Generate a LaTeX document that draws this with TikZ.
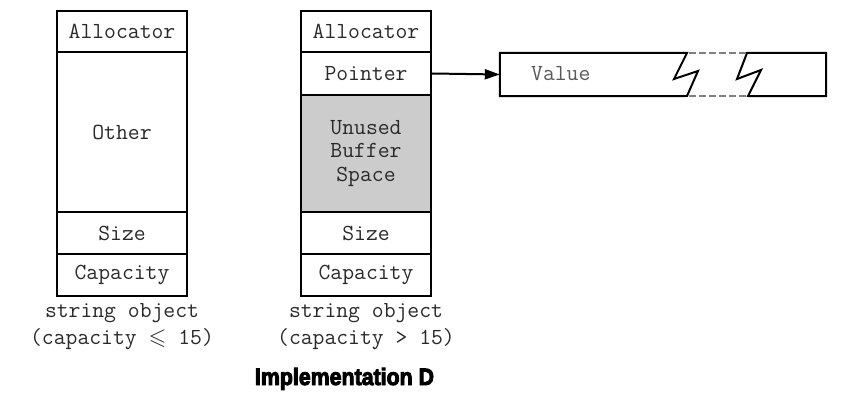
\documentclass[tikz,border=0pt]{standalone}
\usepackage{fontspec}
\usepackage{amssymb}
\newfontfamily\titlefont[FakeBold=4]{Liberation Sans Bold}
\usetikzlibrary{arrows.meta, positioning}
\definecolor{BufferGray}{HTML}{CCCCCC}
\definecolor{CellText}{HTML}{2A2A2A}

\tikzset{
    cell/.style={draw, line width=2pt, inner sep=0pt, minimum width=130pt,
        text=CellText, align=center, font=\ttfamily\fontsize{23}{23.5}\selectfont},
    caption/.style={anchor=base, inner sep=0pt, text=CellText, font=\ttfamily\fontsize{23}{24}\selectfont},
    ptrarrow/.style={-{Triangle[length=15pt,width=10pt]}, line width=2pt}
}

\begin{document}
\begin{tikzpicture}[x=1pt, y=-1pt]
        \useasboundingbox (0,0) rectangle (849,401);
        % short string: data kept inside the object
        \node[cell, minimum height=41pt] (allocL) at (122,31.5) {Allocator};
        \node[cell, minimum height=160pt] (otherL) at (122,132) {Other};
        \node[cell, minimum height=42pt] (sizeL) at (122,233) {Size};
        \node[cell, minimum height=42pt] (capL) at (122,275) {Capacity};
        \node[caption] (objL) at (122,317) {string object};
        \node[caption] (condL) at (122,344) {(capacity \smash{$\leqslant$} 15)};
        % long string: data kept on the heap
        \node[cell, minimum height=41pt] (allocR) at (366,31.5) {Allocator};
        \node[cell, minimum height=43pt] (ptrR) at (366,73.5) {Pointer};
        \node[cell, minimum height=117pt, fill=BufferGray] (unusedR) at (366,153.5) {Unused\\Buffer\\Space};
        \node[cell, minimum height=42pt] (sizeR) at (366,233) {Size};
        \node[cell, minimum height=42pt] (capR) at (366,275) {Capacity};
        \node[caption] (objR) at (366,317) {string object};
        \node[caption] (condR) at (366,344) {(capacity > 15)};
        % heap buffer with a break
        \node[inner sep=0pt, minimum width=326pt, minimum height=43pt] (valbox) at (663,74.5) {};
        \draw[line width=2pt, line join=miter] (687,53) -- (valbox.north west) -- (valbox.south west) -- (687,96) -- (698,71) -- (674,79) -- cycle;
        \draw[line width=2pt, line join=miter] (747,53) -- (valbox.north east) -- (valbox.south east) -- (748,96) -- (761,70) -- (737,79) -- cycle;
        \draw[line width=2pt, black!50, dash pattern=on 7pt off 3pt] (689,53) -- (746,53);
        \draw[line width=2pt, black!50, dash pattern=on 7pt off 3pt] (689,96) -- (747,96);
        \node[font=\ttfamily\fontsize{23}{23.5}\selectfont, text=black!65, anchor=west, inner sep=0pt] (val) at (531,74) {Value};
        \draw[ptrarrow] (ptrR.east) -- (valbox.west);
        \node[font=\titlefont\fontsize{22}{25}\selectfont, anchor=base, xscale=0.97, yscale=1.08] (title) at (344.5,385) {Implementation D};
    \end{tikzpicture}
\end{document}
